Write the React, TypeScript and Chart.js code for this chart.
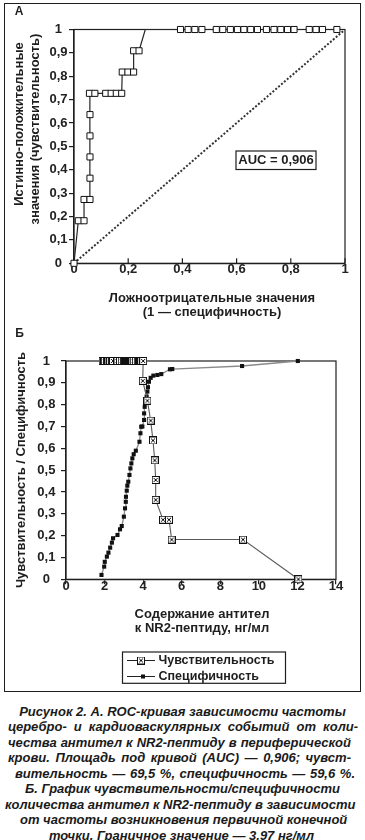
import React, { useEffect, useRef } from "react";
import { Chart, registerables } from "chart.js";
Chart.register(...registerables);

const FONT = "'Liberation Sans', Arial, Helvetica, sans-serif";
const INK = "#1e1e1e";

// ---------- Chart A (ROC) ----------
const ROC_FPR = [0, 0.016, 0.037, 0.037, 0.059, 0.059, 0.059, 0.059, 0.059, 0.057, 0.077, 0.117, 0.137, 0.156, 0.176, 0.178, 0.199, 0.22, 0.22, 0.24, 0.263,
  0.393, 0.421, 0.446, 0.472, 0.525, 0.549, 0.577, 0.603, 0.627, 0.652, 0.677, 0.71, 0.738, 0.763, 0.788, 0.812, 0.868, 0.893, 0.917, 0.97];
const ROC_TPR = [0, 0.182, 0.182, 0.273, 0.273, 0.364, 0.455, 0.545, 0.636, 0.727, 0.727, 0.727, 0.727, 0.727, 0.727, 0.818, 0.818, 0.818, 0.909, 0.909, 1,
  1, 1, 1, 1, 1, 1, 1, 1, 1, 1, 1, 1, 1, 1, 1, 1, 1, 1, 1, 1];
const ROC_UNMARKED = [20];
const DIAG_X = [0, 1];
const DIAG_Y = [0, 1];
const A_X_TICKS = [0, 0.2, 0.4, 0.6, 0.8, 1];
const A_Y_TICKS = [0, 0.1, 0.2, 0.3, 0.4, 0.5, 0.6, 0.7, 0.8, 0.9, 1];
const A_LABEL = "А";
const AUC_TEXT = "AUC = 0,906";
const A_X_TITLE = ["Ложноотрицательные значения", "(1 — специфичность)"];
const A_Y_TITLE = ["Истинно-положительные", "значения (чувствительность)"];

// ---------- Chart B (sensitivity / specificity) ----------
const SENS_CONC = [1.9, 1.98, 2.01, 2.12, 2.2, 2.29, 2.38, 2.44, 2.67, 2.8, 2.89, 3.0, 3.06, 3.1, 3.11, 3.15, 3.18, 3.23, 3.29, 3.34, 3.39, 3.44, 3.51, 3.62, 3.72, 3.81, 3.86, 3.9, 4.0,
  3.98, 4.22, 4.39, 4.51, 4.6, 4.65, 4.65, 5.03, 5.34, 5.48, 9.18, 12.05];
const SENS_VAL = [1, 1, 1, 1, 1, 1, 1, 1, 1, 1, 1, 1, 1, 1, 1, 1, 1, 1, 1, 1, 1, 1, 1, 1, 1, 1, 1, 1, 1,
  0.909, 0.818, 0.727, 0.636, 0.545, 0.455, 0.364, 0.273, 0.273, 0.182, 0.182, 0];
const SPEC_CONC = [1.84, 1.98, 2.01, 2.12, 2.2, 2.29, 2.38, 2.44, 2.67, 2.8, 2.89, 3.0, 3.06, 3.1, 3.11, 3.15, 3.18, 3.23, 3.29, 3.34, 3.39, 3.44, 3.51, 3.62, 3.81, 3.86, 3.9, 3.96, 4.05, 4.05, 4.08, 4.13, 4.18, 4.22, 4.25, 4.3, 4.39, 4.53, 4.74, 4.94, 5.39, 5.51, 9.13, 12.02];
const SPEC_VAL = [0.02, 0.058, 0.08, 0.104, 0.122, 0.145, 0.168, 0.188, 0.203, 0.229, 0.244, 0.287, 0.325, 0.355, 0.378, 0.406, 0.429, 0.447, 0.478, 0.508, 0.531, 0.554, 0.573, 0.589, 0.63, 0.669, 0.699, 0.7, 0.73, 0.76, 0.79, 0.81, 0.837, 0.86, 0.88, 0.905, 0.923, 0.933, 0.936, 0.94, 0.962, 0.963, 0.977, 1.0];
const B_X_TICKS = [0, 2, 4, 6, 8, 10, 12, 14];
const B_Y_TICKS = [0, 0.1, 0.2, 0.3, 0.4, 0.5, 0.6, 0.7, 0.8, 0.9, 1];
const B_LABEL = "Б";
const B_X_TITLE = ["Содержание антител", "к NR2-пептиду, нг/мл"];
const B_Y_TITLE = "Чувствительность / Специфичность";
const LEGEND_LABELS = ["Чувствительность", "Специфичность"];

const CAPTION_LINES = [
  "Рисунок 2. А. ROC-кривая зависимости частоты",
  "церебро- и кардиоваскулярных событий от коли-",
  "чества антител к NR2-пептиду в периферической",
  "крови. Площадь под кривой (AUC) — 0,906; чувст-",
  "вительность — 69,5 %, специфичность — 59,6 %.",
  "Б. График чувствительности/специфичности",
  "количества антител к NR2-пептиду в зависимости",
  "от частоты возникновения первичной конечной",
  "точки. Граничное значение — 3,97 нг/мл",
];
// layout of each caption line: [left, width, justified]
const CAPTION_LAYOUT: [number, number, boolean][] = [
  [0, 365, false],
  [8, 350, true],
  [8, 343, true],
  [8, 343, true],
  [15, 340, true],
  [0, 365, false],
  [5, 348, true],
  [20, 323, true],
  [0, 363, false],
];

const fmt = (v: number) => String(v).replace(".", ",");

function makeCrossSquare(size: number) {
  const c = document.createElement("canvas");
  c.width = size;
  c.height = size;
  const g = c.getContext("2d")!;
  g.fillStyle = "#fff";
  g.fillRect(0, 0, size, size);
  g.strokeStyle = "#111";
  g.lineWidth = 1;
  g.strokeRect(0.5, 0.5, size - 1, size - 1);
  g.beginPath();
  g.moveTo(2, 2);
  g.lineTo(size - 2, size - 2);
  g.moveTo(size - 2, 2);
  g.lineTo(2, size - 2);
  g.stroke();
  return c;
}

function rotatedText(ctx: CanvasRenderingContext2D, text: string, x: number, y: number) {
  ctx.save();
  ctx.translate(x, y);
  ctx.rotate(-Math.PI / 2);
  ctx.textAlign = "center";
  ctx.textBaseline = "middle";
  ctx.fillText(text, 0, 0);
  ctx.restore();
}

function axisCommon(ticks: number[], padding: number, drawTicks: boolean, height?: number, width?: number) {
  return {
    type: "linear" as const,
    min: ticks[0],
    max: ticks[ticks.length - 1],
    afterBuildTicks: (s: any) => {
      s.ticks = ticks.map((v) => ({ value: v }));
    },
    afterFit: (s: any) => {
      if (height !== undefined) s.height = height;
      if (width !== undefined) s.width = width;
    },
    grid: { drawOnChartArea: false, drawTicks, tickLength: 5, color: INK, lineWidth: 1.2 },
    border: { display: true, color: INK, width: 1.2 },
    ticks: {
      autoSkip: false,
      maxRotation: 0,
      padding,
      crossAlign: "center" as const,
      color: "#222",
      font: { family: FONT, size: 13, weight: "bold" as const },
      callback: (v: any) => fmt(Number(v)),
    },
  };
}

const boxPlugin = {
  id: "areaBox",
  beforeDatasetsDraw(chart: any) {
    const { ctx, chartArea: a } = chart;
    ctx.save();
    ctx.strokeStyle = INK;
    ctx.lineWidth = 1.2;
    ctx.strokeRect(a.left, a.top, a.right - a.left, a.bottom - a.top);
    ctx.restore();
  },
};

const decorA = {
  id: "decorA",
  beforeDatasetsDraw(chart: any) {
    const { ctx, chartArea: a, scales } = chart;
    ctx.save();
    ctx.strokeStyle = INK;
    ctx.lineWidth = 1.2;
    ctx.beginPath();
    for (const t of A_X_TICKS) {
      const px = scales.x.getPixelForValue(t);
      ctx.moveTo(px, a.bottom);
      ctx.lineTo(px, a.bottom - 5);
    }
    ctx.stroke();
    ctx.restore();
  },
  afterDraw(chart: any) {
    const { ctx } = chart;
    ctx.save();
    ctx.fillStyle = INK;
    ctx.font = `bold 12px ${FONT}`;
    ctx.textAlign = "center";
    ctx.textBaseline = "middle";
    ctx.fillText(A_LABEL, 19, 12);
    // AUC box
    ctx.strokeStyle = INK;
    ctx.lineWidth = 1.2;
    ctx.fillStyle = "#fff";
    ctx.fillRect(236, 151, 80, 18.5);
    ctx.strokeRect(236, 151, 80, 18.5);
    ctx.fillStyle = INK;
    ctx.font = `bold 13px ${FONT}`;
    ctx.fillText(AUC_TEXT, 276, 160.5);
    // axis titles
    ctx.font = `bold 13px ${FONT}`;
    ctx.fillText(A_X_TITLE[0], 212, 298);
    ctx.fillText(A_X_TITLE[1], 212, 312.5);
    rotatedText(ctx, A_Y_TITLE[0], 19.5, 124);
    rotatedText(ctx, A_Y_TITLE[1], 35.5, 129);
    ctx.restore();
  },
};

const decorB = {
  id: "decorB",
  afterDraw(chart: any) {
    const { ctx } = chart;
    ctx.save();
    ctx.fillStyle = INK;
    ctx.textAlign = "center";
    ctx.textBaseline = "middle";
    ctx.font = `bold 12px ${FONT}`;
    ctx.fillText(B_LABEL, 19.5, 14);
    ctx.font = `bold 13px ${FONT}`;
    ctx.fillText(B_X_TITLE[0], 202, 294.5);
    ctx.fillText(B_X_TITLE[1], 202, 308.5);
    rotatedText(ctx, B_Y_TITLE, 21.5, 150);
    // legend
    ctx.strokeStyle = INK;
    ctx.lineWidth = 1.2;
    ctx.strokeRect(122.5, 332, 163, 31.3);
    ctx.lineWidth = 1;
    ctx.strokeStyle = "#222";
    ctx.beginPath();
    ctx.moveTo(127, 340.5);
    ctx.lineTo(155, 340.5);
    ctx.moveTo(127, 356.5);
    ctx.lineTo(155, 356.5);
    ctx.stroke();
    ctx.drawImage(makeCrossSquare(8), 137, 336.5);
    ctx.fillStyle = "#111";
    ctx.fillRect(141, 354.5, 4, 4);
    ctx.fillStyle = INK;
    ctx.textAlign = "left";
    ctx.font = `bold 12.5px ${FONT}`;
    ctx.fillText(LEGEND_LABELS[0], 158.5, 340.5);
    ctx.fillText(LEGEND_LABELS[1], 158.5, 356.5);
    ctx.restore();
  },
};

function ChartA() {
  const ref = useRef<HTMLCanvasElement>(null);
  useEffect(() => {
    const chart = new Chart(ref.current!, {
      type: "scatter",
      data: {
        datasets: [
          {
            data: ROC_FPR.map((x, i) => ({ x, y: ROC_TPR[i] })),
            showLine: true,
            borderColor: "#262626",
            borderWidth: 1.2,
            pointStyle: "rect",
            pointRadius: (c: any) => (ROC_UNMARKED.includes(c.dataIndex) ? 0 : 4.3),
            pointBackgroundColor: "#fff",
            pointBorderColor: "#111",
            pointBorderWidth: 1,
            clip: false,
          } as any,
          {
            data: DIAG_X.map((x, i) => ({ x, y: DIAG_Y[i] })),
            showLine: true,
            borderColor: "#333",
            borderWidth: 2,
            borderDash: [2, 1.8],
            pointRadius: 0,
          } as any,
        ],
      },
      options: {
        responsive: false,
        animation: false,
        events: [],
        layout: { padding: { top: 29.5, right: 20, left: 0, bottom: 0 } },
        plugins: { legend: { display: false }, tooltip: { enabled: false } },
        scales: {
          x: axisCommon(A_X_TICKS, 6.4, false, 320 - 263.3, undefined) as any,
          y: axisCommon(A_Y_TICKS, 1.5, true, undefined, 74) as any,
        },
      },
      plugins: [boxPlugin, decorA],
    });
    return () => chart.destroy();
  }, []);
  return <canvas ref={ref} width={365} height={320} style={{ position: "absolute", left: 0, top: 0 }} />;
}

function ChartB() {
  const ref = useRef<HTMLCanvasElement>(null);
  useEffect(() => {
    const cross = makeCrossSquare(8);
    const chart = new Chart(ref.current!, {
      type: "scatter",
      data: {
        datasets: [
          {
            data: SENS_CONC.map((x, i) => ({ x, y: SENS_VAL[i] })),
            showLine: true,
            borderColor: "#5a5a5a",
            borderWidth: 1.1,
            pointStyle: cross,
            pointRadius: 4,
            clip: false,
          } as any,
          {
            data: SPEC_CONC.map((x, i) => ({ x, y: SPEC_VAL[i] })),
            showLine: true,
            borderColor: "#8a8a8a",
            borderWidth: 1.3,
            pointStyle: "rect",
            pointRadius: 2.9,
            pointBackgroundColor: "#111",
            pointBorderColor: "#111",
            pointBorderWidth: 0,
            clip: false,
          } as any,
        ],
      },
      options: {
        responsive: false,
        animation: false,
        events: [],
        layout: { padding: { top: 41, right: 29, left: 0, bottom: 0 } },
        plugins: { legend: { display: false }, tooltip: { enabled: false } },
        scales: {
          x: axisCommon(B_X_TICKS, 2, true, 372 - 259.3, undefined) as any,
          y: axisCommon(B_Y_TICKS, 5.6, true, undefined, 66) as any,
        },
      },
      plugins: [boxPlugin, decorB],
    });
    return () => chart.destroy();
  }, []);
  return <canvas ref={ref} width={365} height={372} style={{ position: "absolute", left: 0, top: 320 }} />;
}

export default function App() {
  return (
    <div style={{ position: "absolute", left: 0, top: 0, width: 365, height: 840, background: "#fff", overflow: "hidden" }}>
      <div
        style={{
          position: "absolute",
          left: 4,
          top: 3,
          width: 357,
          height: 689,
          boxSizing: "border-box",
          border: `1.5px solid ${INK}`,
        }}
      />
      <ChartA />
      <ChartB />
      <div style={{ position: "absolute", left: 0, top: 703.5, width: 365 }}>
        {CAPTION_LINES.map((l, i) => {
          const [left, width, just] = CAPTION_LAYOUT[i];
          return (
            <div
              key={i}
              style={{
                marginLeft: left,
                width,
                textAlign: just ? "justify" : "center",
                textAlignLast: just ? "justify" : "center",
                whiteSpace: "nowrap",
                font: `italic bold 13px/15.5px ${FONT}`,
                color: "#1a1a1a",
              } as any}
            >
              {l}
            </div>
          );
        })}
      </div>
    </div>
  );
}
